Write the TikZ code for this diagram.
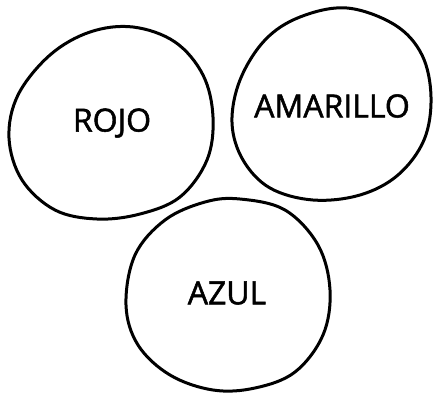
\documentclass[tikz,border=0pt]{standalone}
\usepackage{fontspec}
\setmainfont{Open Sans}
\newfontfamily\lblfont[FakeBold=1.6]{Open Sans}
\begin{document}
\begin{tikzpicture}[x=1pt,y=-1pt,
  blob/.style={draw=black,line width=3pt,line join=round},
  lbl/.style={font=\lblfont\fontsize{32}{32}\selectfont,text=black,inner sep=0pt}]
\useasboundingbox (0,0) rectangle (433,392);
% ROJO
\draw[blob] plot[smooth cycle,tension=0.6] coordinates {
  (133,27) (175,42) (203,75) (213,117) (207,160) (180,197) (140,214)
  (97,219) (55,210) (22,180) (9,138) (18,95) (50,55) (90,32)};
% AMARILLO
\draw[blob] plot[smooth cycle,tension=0.6] coordinates {
  (347,8) (395,25) (422,55) (431,97) (424,140) (398,175) (360,195)
  (313,200) (270,188) (243,160) (232,123) (240,80) (265,40) (300,17)};
% AZUL
\draw[blob] plot[smooth cycle,tension=0.6] coordinates {
  (240,199) (285,210) (318,245) (330,290) (323,335) (295,372) (255,388)
  (213,390) (170,375) (138,345) (126,305) (135,255) (165,220) (205,202)};
\node[lbl] (rojo) at (112,123) {ROJO};
\node[lbl] (amarillo) at (332,106) {AMARILLO};
\node[lbl] (azul) at (227,293) {AZUL};
\end{tikzpicture}
\end{document}
